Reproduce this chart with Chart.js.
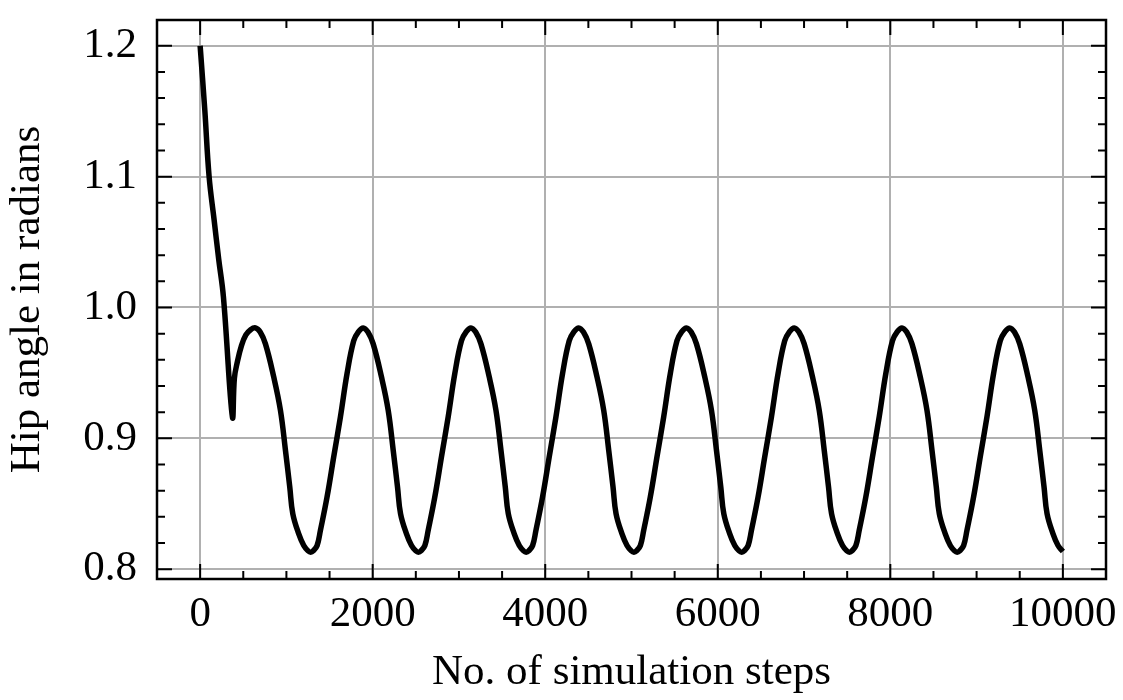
<!DOCTYPE html>
<html>
<head>
<meta charset="utf-8">
<title>Hip angle</title>
<script src="https://cdn.jsdelivr.net/npm/chart.js@4.4.1/dist/chart.umd.min.js"></script>
<style>
  html, body { margin: 0; padding: 0; background: #fff; }
  #wrap { width: 1123px; height: 700px; position: relative; }
</style>
</head>
<body>
<div id="wrap"><canvas id="hipChart"></canvas></div>
<script>
// Values
const steps = [
    0, 54, 104, 162, 215, 270, 374, 397, 430, 480, 530, 585,
    641, 696, 757, 853, 931, 989, 1039, 1074, 1143, 1201, 1251, 1281, 1311, 1356, 1394, 1471, 1548, 1626, 1703, 1780, 1836,
    1890, 1945, 2006, 2102, 2180, 2238, 2288, 2323, 2392, 2450, 2500, 2530, 2560, 2605, 2643, 2720, 2797, 2875, 2952, 3029, 3085,
    3139, 3194, 3255, 3351, 3429, 3487, 3537, 3572, 3641, 3699, 3749, 3779, 3809, 3854, 3892, 3969, 4046, 4124, 4201, 4278, 4334,
    4388, 4443, 4504, 4600, 4678, 4736, 4786, 4821, 4890, 4948, 4998, 5028, 5058, 5103, 5141, 5218, 5295, 5373, 5450, 5527, 5583,
    5637, 5692, 5753, 5849, 5927, 5985, 6035, 6070, 6139, 6197, 6247, 6277, 6307, 6352, 6390, 6467, 6544, 6622, 6699, 6776, 6832,
    6886, 6941, 7002, 7098, 7176, 7234, 7284, 7319, 7388, 7446, 7496, 7526, 7556, 7601, 7639, 7716, 7793, 7871, 7948, 8025, 8081,
    8135, 8190, 8251, 8347, 8425, 8483, 8533, 8568, 8637, 8695, 8745, 8775, 8805, 8850, 8888, 8965, 9042, 9120, 9197, 9274, 9330,
    9384, 9439, 9500, 9596, 9674, 9732, 9782, 9817, 9886, 9944, 10000
];

const hipAngle = [
    1.2000, 1.1510, 1.1000, 1.0670, 1.0370, 1.0080, 0.9163, 0.9460, 0.9580, 0.9710, 0.9790, 0.9830,
    0.9844, 0.9812, 0.9722, 0.9469, 0.9214, 0.8908, 0.8627, 0.8424, 0.8270, 0.8181, 0.8140, 0.8130, 0.8140, 0.8181, 0.8296, 0.8551, 0.8857, 0.9163, 0.9495, 0.9745, 0.9815,
    0.9844, 0.9812, 0.9722, 0.9469, 0.9214, 0.8908, 0.8627, 0.8424, 0.8270, 0.8181, 0.8140, 0.8130, 0.8140, 0.8181, 0.8296, 0.8551, 0.8857, 0.9163, 0.9495, 0.9745, 0.9815,
    0.9844, 0.9812, 0.9722, 0.9469, 0.9214, 0.8908, 0.8627, 0.8424, 0.8270, 0.8181, 0.8140, 0.8130, 0.8140, 0.8181, 0.8296, 0.8551, 0.8857, 0.9163, 0.9495, 0.9745, 0.9815,
    0.9844, 0.9812, 0.9722, 0.9469, 0.9214, 0.8908, 0.8627, 0.8424, 0.8270, 0.8181, 0.8140, 0.8130, 0.8140, 0.8181, 0.8296, 0.8551, 0.8857, 0.9163, 0.9495, 0.9745, 0.9815,
    0.9844, 0.9812, 0.9722, 0.9469, 0.9214, 0.8908, 0.8627, 0.8424, 0.8270, 0.8181, 0.8140, 0.8130, 0.8140, 0.8181, 0.8296, 0.8551, 0.8857, 0.9163, 0.9495, 0.9745, 0.9815,
    0.9844, 0.9812, 0.9722, 0.9469, 0.9214, 0.8908, 0.8627, 0.8424, 0.8270, 0.8181, 0.8140, 0.8130, 0.8140, 0.8181, 0.8296, 0.8551, 0.8857, 0.9163, 0.9495, 0.9745, 0.9815,
    0.9844, 0.9812, 0.9722, 0.9469, 0.9214, 0.8908, 0.8627, 0.8424, 0.8270, 0.8181, 0.8140, 0.8130, 0.8140, 0.8181, 0.8296, 0.8551, 0.8857, 0.9163, 0.9495, 0.9745, 0.9815,
    0.9844, 0.9812, 0.9722, 0.9469, 0.9214, 0.8908, 0.8627, 0.8424, 0.8270, 0.8181, 0.8135
];

const xTicks = [0, 2000, 4000, 6000, 8000, 10000];
const yTicks = [0.8, 0.9, 1.0, 1.1, 1.2];
const yTickLabels = ['0.8', '0.9', '1.0', '1.1', '1.2'];
const xMinor = [500, 1000, 1500, 2500, 3000, 3500, 4500, 5000, 5500, 6500, 7000, 7500, 8500, 9000, 9500];
const yMinor = [0.82, 0.84, 0.86, 0.88, 0.92, 0.94, 0.96, 0.98, 1.02, 1.04, 1.06, 1.08, 1.12, 1.14, 1.16, 1.18];

const FONT = "'Liberation Serif', 'DejaVu Serif', serif";
const FONT_SIZE = 43;

// Boxed frame with inward ticks on all four sides
const boxTicks = {
    id: 'boxTicks',
    afterDraw(chart) {
        const { ctx, chartArea: a, scales: { x, y } } = chart;
        ctx.save();
        ctx.strokeStyle = '#000';
        ctx.lineWidth = 2;
        ctx.beginPath();
        const xt = (v, len) => {
            const px = x.getPixelForValue(v);
            ctx.moveTo(px, a.bottom); ctx.lineTo(px, a.bottom - len);
            ctx.moveTo(px, a.top); ctx.lineTo(px, a.top + len);
        };
        const yt = (v, len) => {
            const py = y.getPixelForValue(v);
            ctx.moveTo(a.left, py); ctx.lineTo(a.left + len, py);
            ctx.moveTo(a.right, py); ctx.lineTo(a.right - len, py);
        };
        xTicks.forEach(v => xt(v, 15));
        xMinor.forEach(v => xt(v, 8));
        yTicks.forEach(v => yt(v, 15));
        yMinor.forEach(v => yt(v, 8));
        ctx.stroke();
        ctx.lineWidth = 2.5;
        ctx.strokeRect(a.left, a.top, a.right - a.left, a.bottom - a.top);
        ctx.restore();
    }
};

new Chart(document.getElementById('hipChart').getContext('2d'), {
    type: 'line',
    data: {
        datasets: [{
            data: steps.map((s, i) => ({ x: s, y: hipAngle[i] })),
            borderColor: '#000',
            borderWidth: 5.5,
            pointRadius: 0,
            fill: false,
            tension: 0.4,
            borderJoinStyle: 'round',
            borderCapStyle: 'butt'
        }]
    },
    options: {
        responsive: true,
        maintainAspectRatio: false,
        animation: false,
        layout: { padding: { top: 20, right: 17, left: 0, bottom: 0 } },
        plugins: {
            legend: { display: false },
            tooltip: { enabled: false }
        },
        scales: {
            x: {
                type: 'linear',
                min: -500,
                max: 10500,
                afterBuildTicks: (scale) => { scale.ticks = xTicks.map(v => ({ value: v })); },
                afterFit: (scale) => {
                    scale.height = 121;
                    scale.paddingLeft = 0;
                    scale.paddingRight = 0;
                },
                ticks: {
                    color: '#000',
                    padding: 10,
                    maxRotation: 0,
                    font: { family: FONT, size: FONT_SIZE },
                    callback: (value) => String(value)
                },
                grid: { color: '#b0b0b0', lineWidth: 2, drawTicks: false },
                border: { display: false },
                title: {
                    display: true,
                    text: 'No. of simulation steps',
                    color: '#000',
                    padding: { top: 0, bottom: 1 },
                    font: { family: FONT, size: FONT_SIZE }
                }
            },
            y: {
                type: 'linear',
                min: 0.7925,
                max: 1.2197,
                afterBuildTicks: (scale) => { scale.ticks = yTicks.map(v => ({ value: v })); },
                afterFit: (scale) => {
                    scale.width = 157;
                    scale.paddingTop = 0;
                    scale.paddingBottom = 0;
                },
                ticks: {
                    color: '#000',
                    padding: 20,
                    font: { family: FONT, size: FONT_SIZE },
                    callback: (value) => yTickLabels[yTicks.findIndex(t => Math.abs(t - value) < 1e-6)] ?? ''
                },
                grid: { color: '#b0b0b0', lineWidth: 2, drawTicks: false },
                border: { display: false },
                title: {
                    display: true,
                    text: 'Hip angle in radians',
                    color: '#000',
                    padding: { top: 2, bottom: 0 },
                    font: { family: FONT, size: FONT_SIZE }
                }
            }
        }
    },
    plugins: [boxTicks]
});
</script>
</body>
</html>
